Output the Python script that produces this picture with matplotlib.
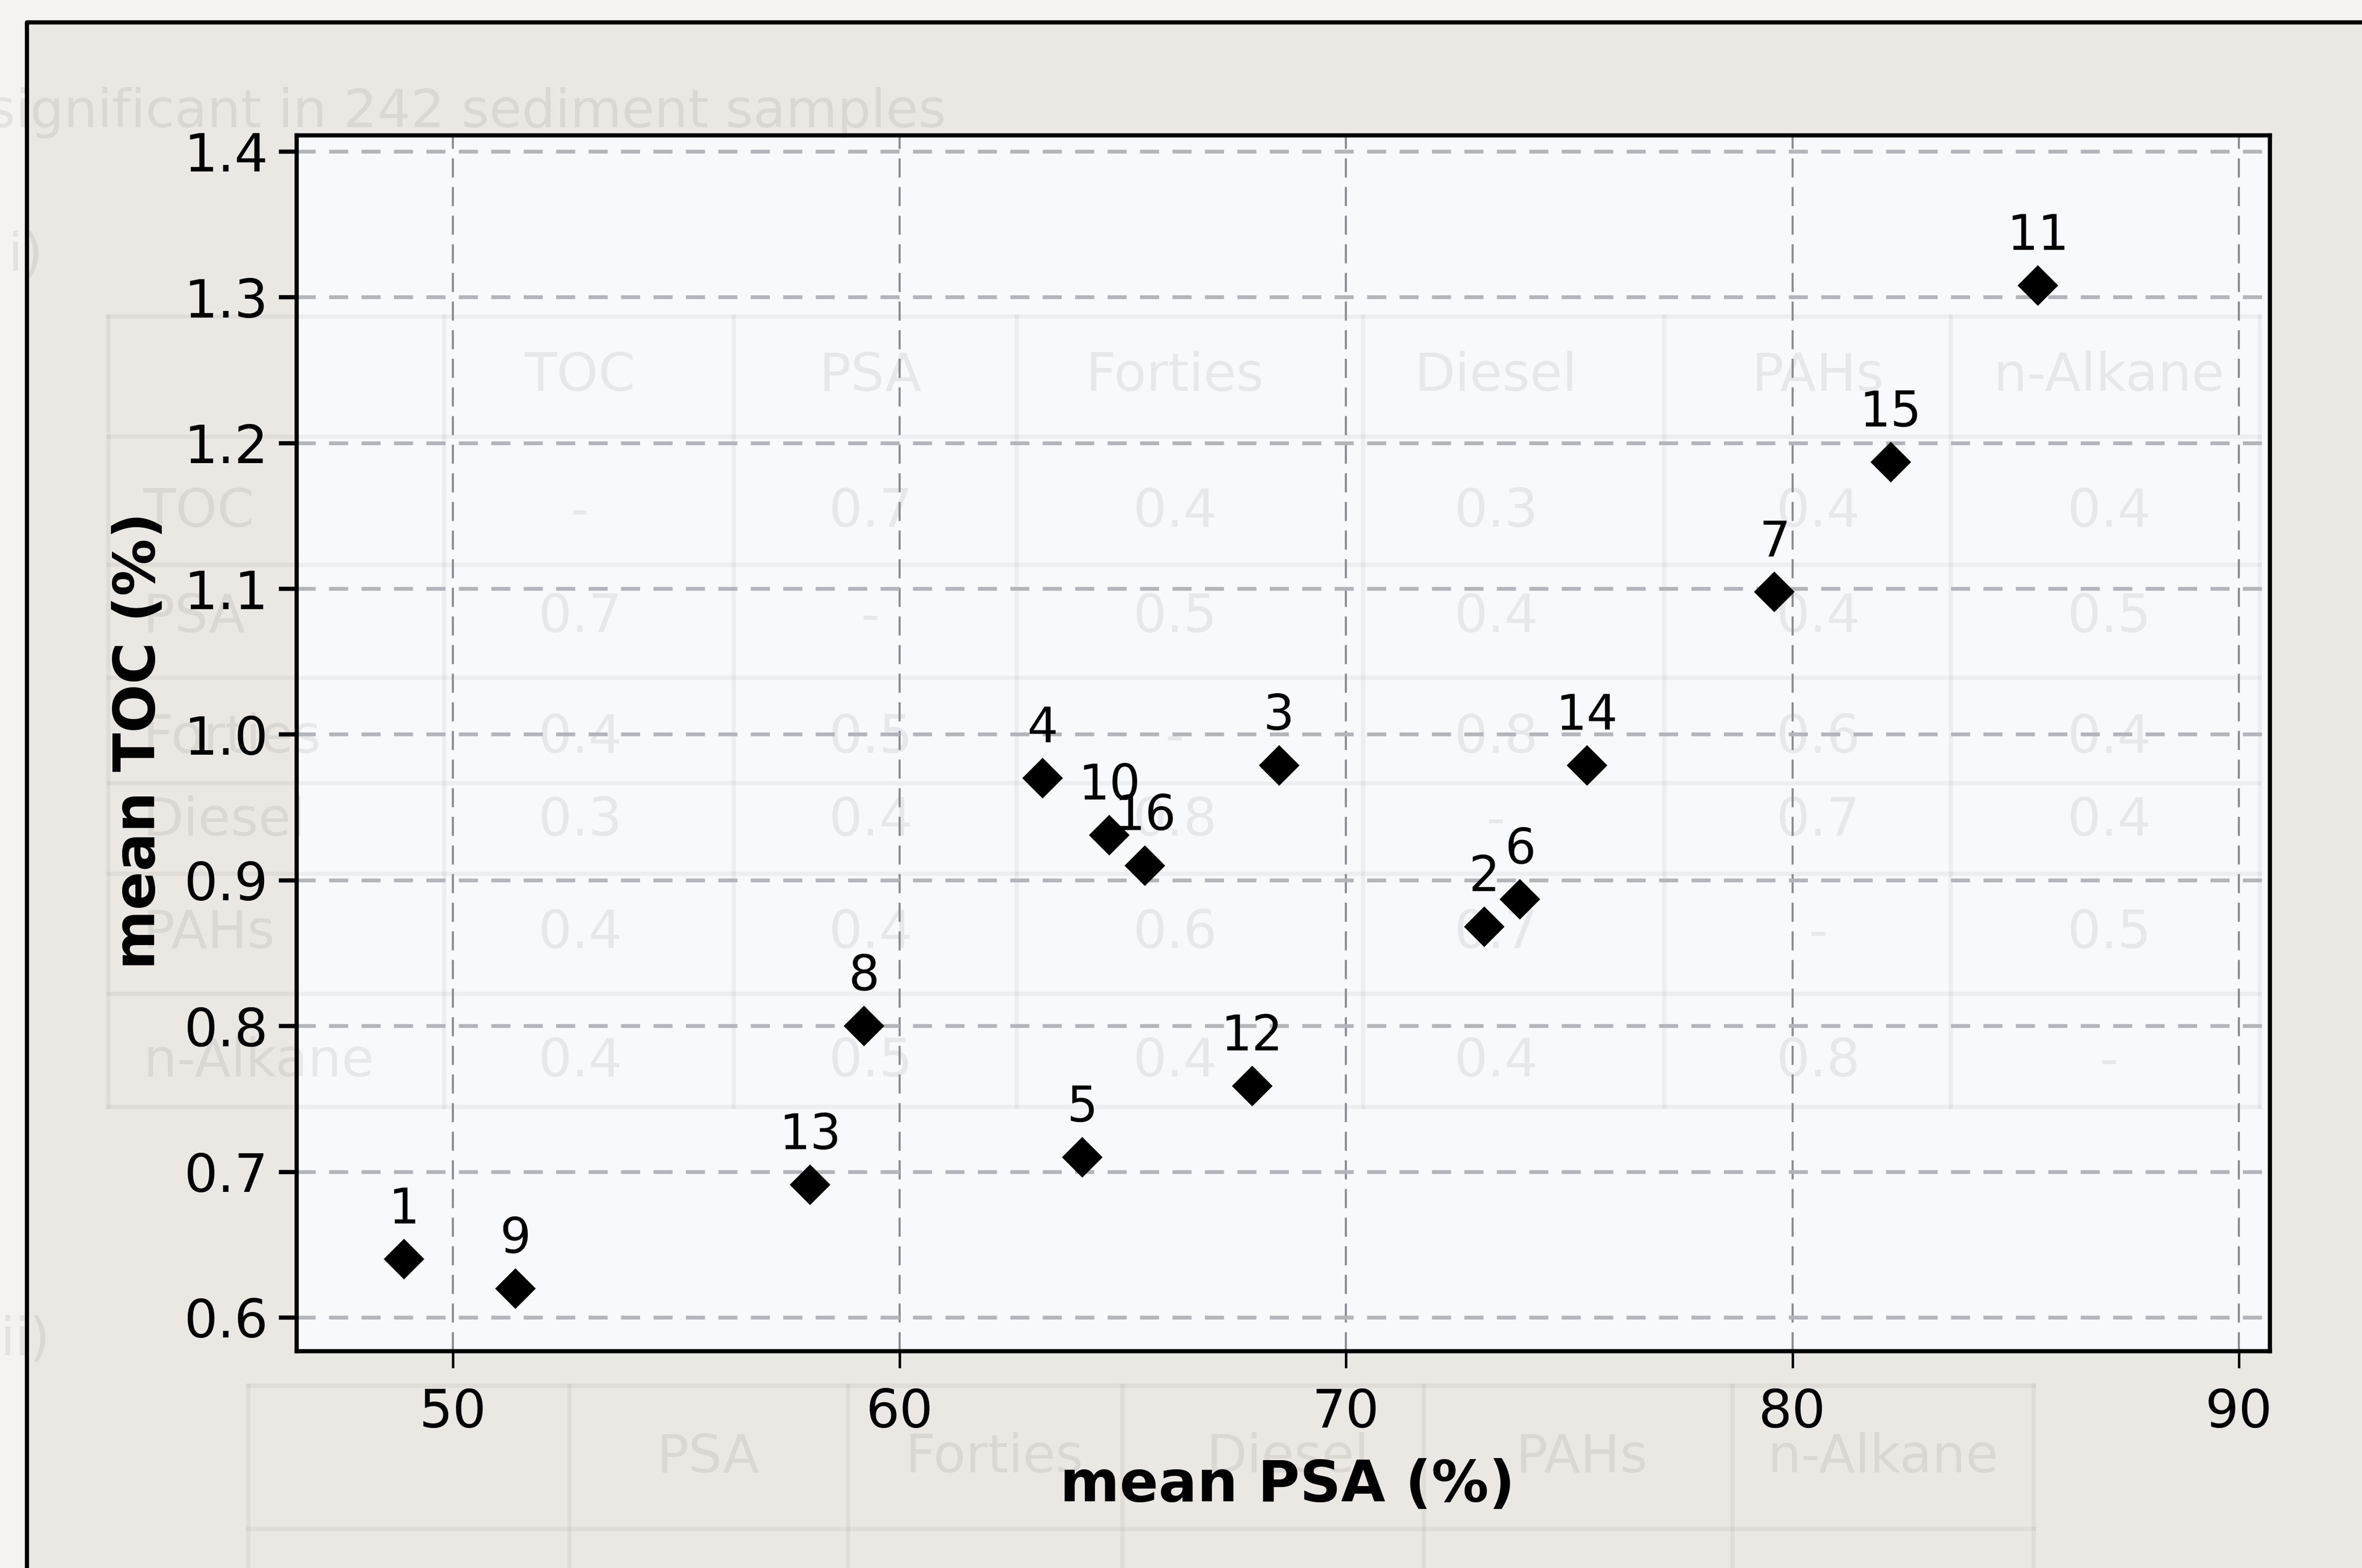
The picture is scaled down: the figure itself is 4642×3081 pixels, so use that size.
import numpy as np
import matplotlib
matplotlib.use("Agg")
import matplotlib.pyplot as plt
from matplotlib.lines import Line2D
from matplotlib.patches import Rectangle

# site numbers with mean PSA (%) and mean TOC (%)
sites = ["1", "2", "3", "4", "5", "6", "7", "8", "9", "10", "11", "12", "13", "14", "15", "16"]
psa = [48.9, 73.1, 68.5, 63.2, 64.1, 73.9, 79.6, 59.2, 51.4, 64.7, 85.5, 67.9, 58.0, 75.4, 82.2, 65.5]
toc = [0.64, 0.868, 0.979, 0.97, 0.71, 0.887, 1.098, 0.80, 0.62, 0.931, 1.308, 0.759, 0.691, 0.979, 1.187, 0.91]

x_ticks = [50, 60, 70, 80, 90]
y_ticks = [0.6, 0.7, 0.8, 0.9, 1.0, 1.1, 1.2, 1.3, 1.4]

# faint print-through of the facing page (correlation tables)
ghost_cols = ["TOC", "PSA", "Forties", "Diesel", "PAHs", "n-Alkane"]
ghost_vals = [
    ["-", "0.7", "0.4", "0.3", "0.4", "0.4"],
    ["0.7", "-", "0.5", "0.4", "0.4", "0.5"],
    ["0.4", "0.5", "-", "0.8", "0.6", "0.4"],
    ["0.3", "0.4", "0.8", "-", "0.7", "0.4"],
    ["0.4", "0.4", "0.6", "0.7", "-", "0.5"],
    ["0.4", "0.5", "0.4", "0.4", "0.8", "-"],
]
ghost_cols2 = ["PSA", "Forties", "Diesel", "PAHs", "n-Alkane"]

W, H = 1568.0, 1041.0
def fx(x):
    return x / W
def fy(y):
    return 1 - y / H

fig = plt.figure(figsize=(4642 / 300, 3081 / 300), dpi=300)
fig.patch.set_facecolor("#ebe8e3")

# whiter margin outside the printed frame
fig.add_artist(Rectangle((0, fy(15)), 1, 1 - fy(15), transform=fig.transFigure,
                         facecolor="#f4f3f1", edgecolor="none", zorder=0))
fig.add_artist(Rectangle((0, 0), fx(18), 1, transform=fig.transFigure,
                         facecolor="#f4f3f1", edgecolor="none", zorder=0))
fig.add_artist(Line2D([fx(18), fx(18), 1], [0, fy(15), fy(15)], transform=fig.transFigure,
                      color="black", lw=2.0, zorder=1))

ax = fig.add_axes([fx(197), fy(897), fx(1507) - fx(197), fy(90) - fy(897)])
ax.set_facecolor("#f8f9fd")

gc = (0, 0, 0, 0.065)
gl = (0, 0, 0, 0.045)
gkw = dict(transform=fig.transFigure, color=gc, fontsize=25, ha="center", va="center", zorder=0.5)
ax.text(fx(-8), fy(75), "significant in 242 sediment samples", ha="left", va="center",
        transform=fig.transFigure, color=gc, fontsize=25, zorder=0.5)
ax.text(fx(5), fy(170), "i)", ha="left", va="center", transform=fig.transFigure,
        color=gc, fontsize=25, zorder=0.5)
ax.text(fx(0), fy(890), "ii)", ha="left", va="center", transform=fig.transFigure,
        color=gc, fontsize=25, zorder=0.5)

col_x = [385, 578, 780, 993, 1207, 1400]
row_y = [340, 410, 490, 545, 620, 705]
for cx, name in zip(col_x, ghost_cols):
    ax.text(fx(cx), fy(250), name, **gkw)
for ry, name, vals in zip(row_y, ghost_cols, ghost_vals):
    ax.text(fx(95), fy(ry), name, transform=fig.transFigure, color=gc, fontsize=25,
            ha="left", va="center", zorder=0.5)
    for cx, v in zip(col_x, vals):
        ax.text(fx(cx), fy(ry), v, **gkw)
for yy in [210, 290, 375, 450, 520, 580, 660, 735]:
    ax.add_line(Line2D([fx(72), fx(1500)], [fy(yy), fy(yy)], transform=fig.transFigure,
                       color=gl, lw=2, zorder=0.5, clip_on=False))
for xx in [72, 295, 487, 675, 905, 1105, 1295, 1500]:
    ax.add_line(Line2D([fx(xx), fx(xx)], [fy(210), fy(735)], transform=fig.transFigure,
                       color=gl, lw=2, zorder=0.5, clip_on=False))

col_x2 = [470, 660, 855, 1050, 1250]
for cx, name in zip(col_x2, ghost_cols2):
    fig.text(fx(cx), fy(968), name, transform=fig.transFigure, color=gc, fontsize=25,
             ha="center", va="center", zorder=0.5)
for yy in [920, 1015]:
    fig.add_artist(Line2D([fx(165), fx(1350)], [fy(yy), fy(yy)], transform=fig.transFigure,
                          color=gl, lw=2, zorder=0.5))
for xx in [165, 378, 563, 745, 945, 1150, 1350]:
    fig.add_artist(Line2D([fx(xx), fx(xx)], [fy(920), 0], transform=fig.transFigure,
                          color=gl, lw=2, zorder=0.5))

# the scatter itself
ax.plot(psa, toc, linestyle="none", marker="D", markersize=12.5, color="black", zorder=3)
for s, x, y in zip(sites, psa, toc):
    ax.annotate(s, (x, y), xytext=(0, 12), textcoords="offset points",
                ha="center", va="bottom", fontsize=23, color="black", zorder=4)

ax.set_xlim(46.5, 90.7)
ax.set_ylim(0.577, 1.411)
ax.set_xticks(x_ticks)
ax.set_yticks(y_ticks)
ax.set_yticklabels([f"{v:.1f}" for v in y_ticks])

ax.xaxis.grid(True, color="#8c8c96", lw=1.0, linestyle=(0, (9, 4.5)))
ax.yaxis.grid(True, color="#b4b4bc", lw=1.8, linestyle=(0, (5, 3.5)))
ax.set_axisbelow(True)

for sp in ax.spines.values():
    sp.set_linewidth(2.0)
    sp.set_color("black")

ax.tick_params(axis="x", direction="out", length=8, width=1.2, pad=9, labelsize=25)
ax.tick_params(axis="y", direction="out", length=8.5, width=2.0, pad=5, labelsize=25)

ax.set_xlabel("mean PSA (%)", fontsize=27, fontweight="bold")
ax.set_ylabel("mean TOC (%)", fontsize=27, fontweight="bold")
ax.xaxis.set_label_coords(0.502, -0.088)
ax.yaxis.set_label_coords(-0.066, 0.502)

fig.savefig("out.png", dpi=300, facecolor=fig.get_facecolor())
